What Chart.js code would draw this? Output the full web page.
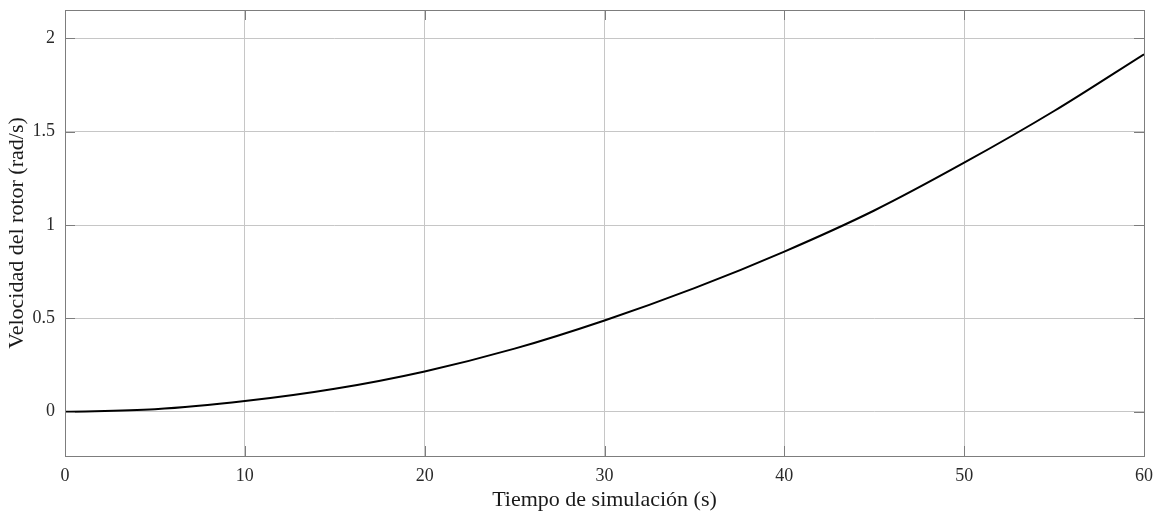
<!DOCTYPE html>
<html>
<head>
<meta charset="utf-8">
<script src="https://cdn.jsdelivr.net/npm/chart.js@4/dist/chart.umd.min.js"></script>
<style>
  html, body { margin: 0; padding: 0; background: #fff; }
  #wrap { width: 1159px; height: 513px; }
</style>
</head>
<body>
<div id="wrap"><canvas id="chartVel" width="1159" height="513"></canvas></div>
<script>
// Tiempo de simulación (s) vs velocidad del rotor (rad/s)
const tiempo = [0, 5, 10, 15, 20, 25, 30, 35, 40, 45, 50, 55, 60];
const velocidad = [0, 0.013, 0.057, 0.123, 0.216, 0.338, 0.489, 0.662, 0.858, 1.078, 1.334, 1.611, 1.915];

const xTicks = [0, 10, 20, 30, 40, 50, 60];
const yTicks = [0, 0.5, 1, 1.5, 2];

const serif = "'Liberation Serif', 'DejaVu Serif', serif";
const gridColor = '#c6c6c6';
const boxColor = '#7d7d7d';

// box round the plot plus the short inward tick marks, like the matlab axes
const axesBox = {
    id: 'axesBox',
    afterDatasetsDraw(chart) {
        const { ctx, chartArea: a, scales } = chart;
        ctx.save();
        ctx.strokeStyle = boxColor;
        ctx.lineWidth = 1;
        ctx.beginPath();
        yTicks.forEach(v => {
            const y = Math.round(scales.y.getPixelForValue(v)) + 0.5;
            ctx.moveTo(a.left, y); ctx.lineTo(a.left + 10, y);
            ctx.moveTo(a.right, y); ctx.lineTo(a.right - 10, y);
        });
        xTicks.forEach(v => {
            const x = Math.round(scales.x.getPixelForValue(v)) + 0.5;
            ctx.moveTo(x, a.bottom); ctx.lineTo(x, a.bottom - 10);
            ctx.moveTo(x, a.top); ctx.lineTo(x, a.top + 10);
        });
        ctx.stroke();
        ctx.strokeRect(Math.round(a.left) + 0.5, Math.round(a.top) + 0.5,
            Math.round(a.right - a.left), Math.round(a.bottom - a.top));
        ctx.restore();
    }
};

new Chart(document.getElementById('chartVel'), {
    type: 'line',
    data: {
        datasets: [{
            data: tiempo.map((t, i) => ({ x: t, y: velocidad[i] })),
            borderColor: '#000',
            borderWidth: 2,
            pointRadius: 0,
            fill: false,
            cubicInterpolationMode: 'monotone'
        }]
    },
    options: {
        responsive: false,
        animation: false,
        layout: { padding: { left: 0, right: 15, top: 10, bottom: 0 } },
        plugins: { legend: { display: false }, tooltip: { enabled: false } },
        scales: {
            x: {
                type: 'linear',
                min: 0,
                max: 60,
                afterFit: s => { s.height = 57; s.paddingLeft = 0; s.paddingRight = 0; },
                afterBuildTicks: s => { s.ticks = xTicks.map(v => ({ value: v })); },
                grid: { color: gridColor, drawTicks: false },
                border: { display: false },
                ticks: { color: '#2a2a2a', padding: 9, maxRotation: 0, font: { family: serif, size: 18 } },
                title: {
                    display: true,
                    text: 'Tiempo de simulación (s)',
                    color: '#1a1a1a',
                    padding: { top: 4, bottom: 0 },
                    font: { family: serif, size: 22 }
                }
            },
            y: {
                type: 'linear',
                min: -0.237,
                max: 2.152,
                afterFit: s => { s.width = 65; s.paddingTop = 0; s.paddingBottom = 0; },
                afterBuildTicks: s => { s.ticks = yTicks.map(v => ({ value: v })); },
                grid: { color: gridColor, drawTicks: false },
                border: { display: false },
                ticks: {
                    color: '#2a2a2a',
                    padding: 10,
                    font: { family: serif, size: 18 },
                    callback: v => String(v)
                },
                title: {
                    display: true,
                    text: 'Velocidad del rotor (rad/s)',
                    color: '#1a1a1a',
                    padding: { top: 4, bottom: 0 },
                    font: { family: serif, size: 22 }
                }
            }
        }
    },
    plugins: [axesBox]
});
</script>
</body>
</html>
